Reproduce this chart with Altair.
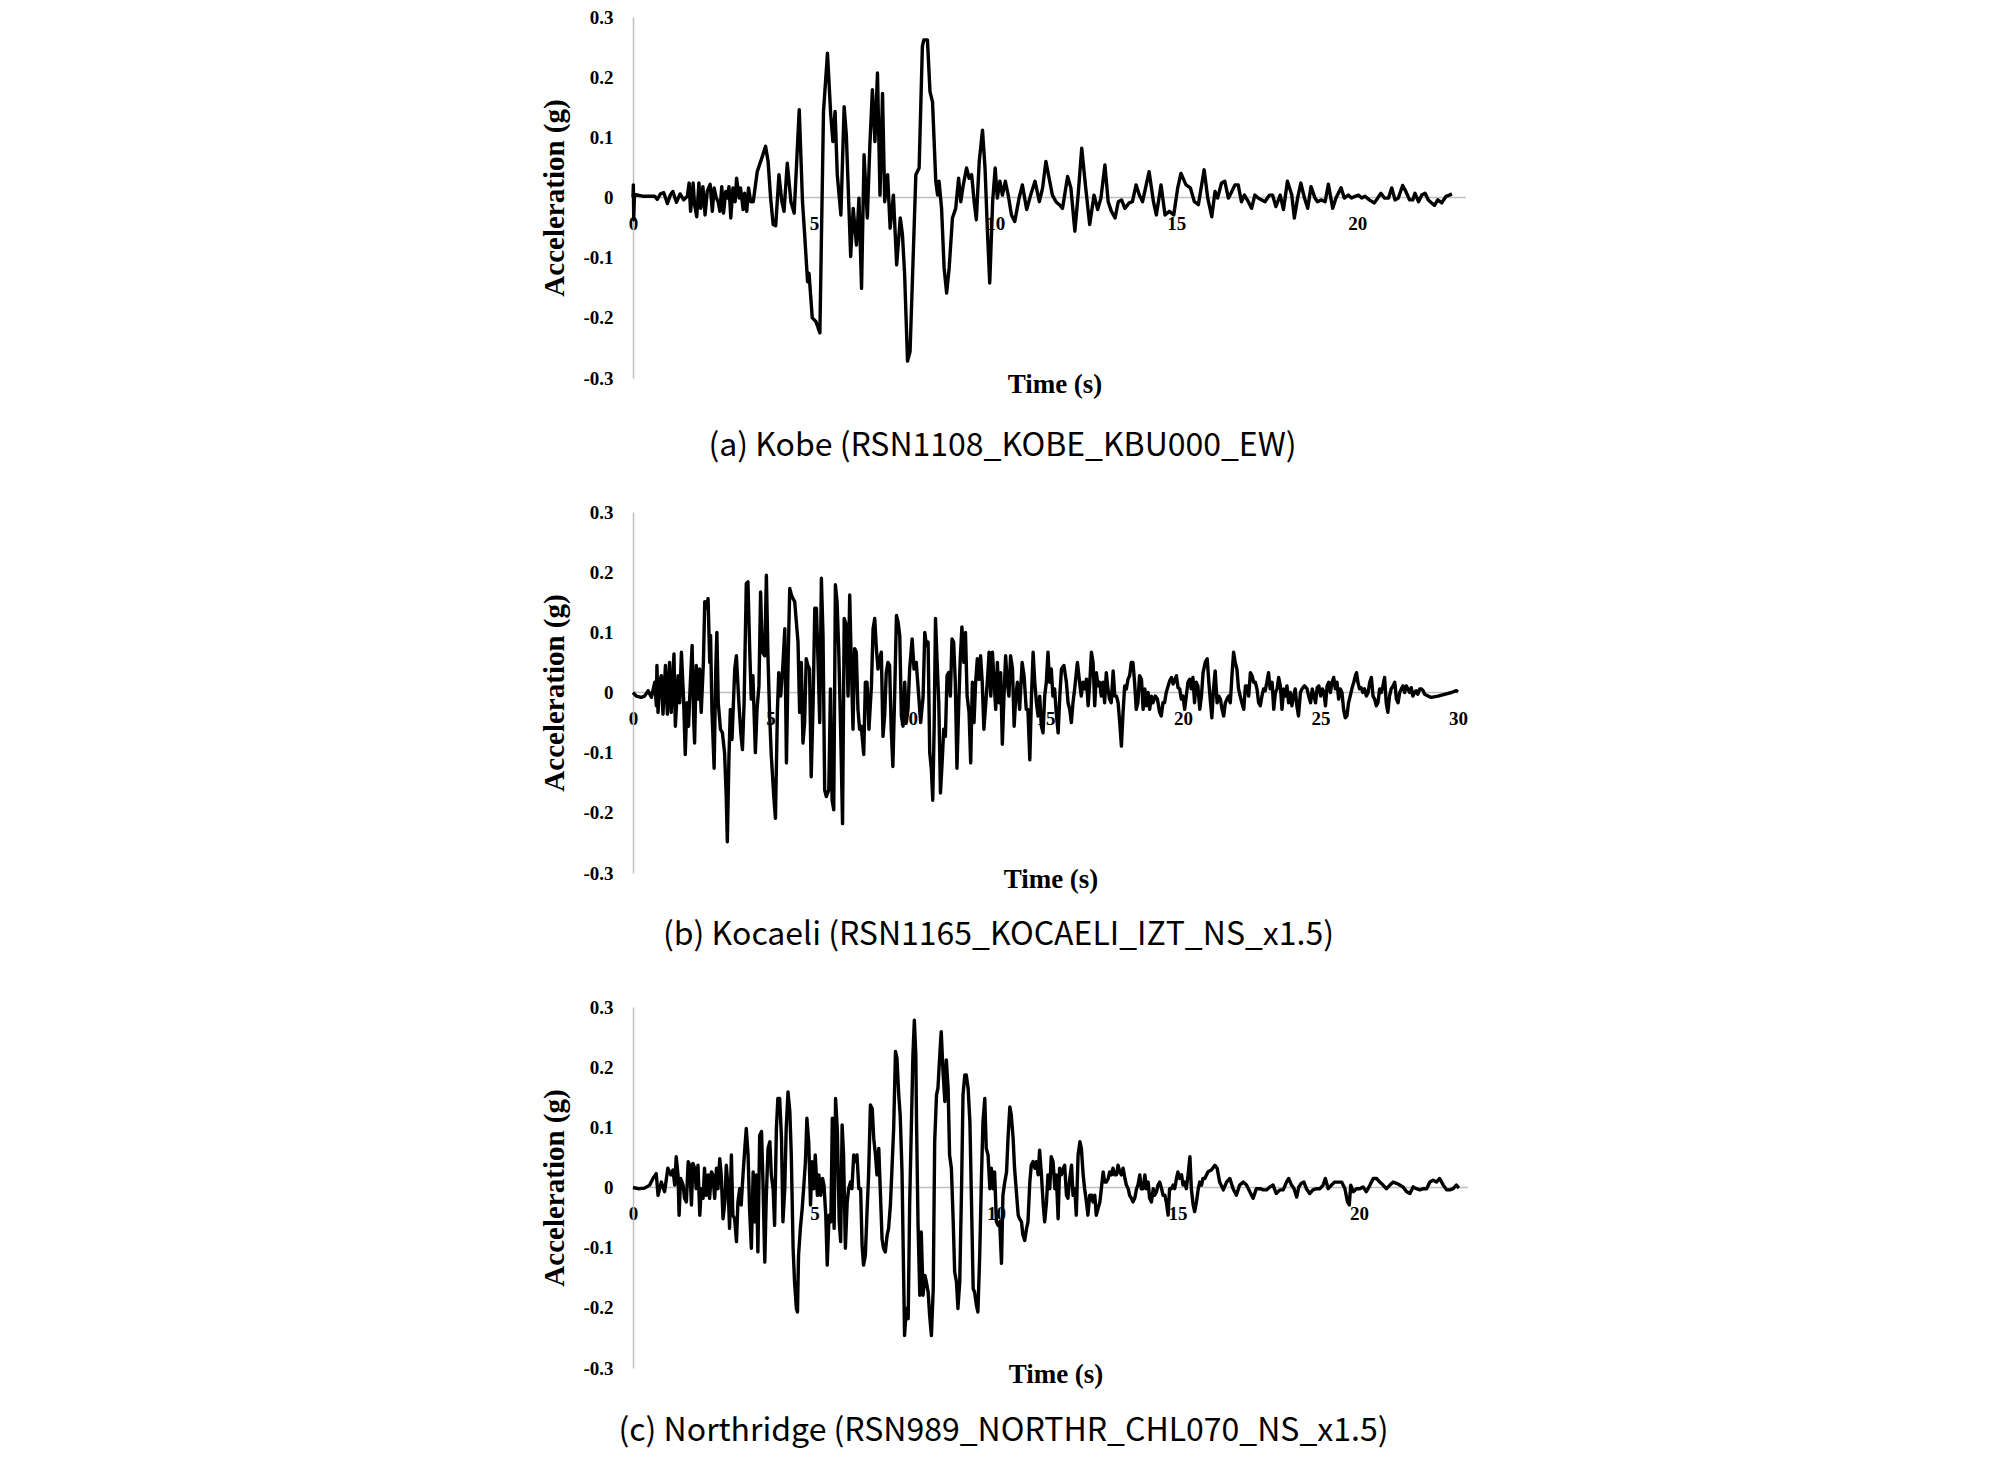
import altair as alt
import pandas as pd

# ---------------- data: (time s, acceleration g) ----------------
KOBE = [
(0.00,0.000),(0.01,0.021),(0.02,-0.037),(0.04,0.005),(0.30,0.002),(0.60,0.002),
(0.67,-0.003),(0.76,0.006),(0.85,0.008),(0.95,-0.010),(1.03,0.004),(1.10,0.010),(1.20,-0.008),(1.30,0.006),(1.40,-0.004),(1.50,0.002),
(1.55,0.024),(1.59,-0.023),(1.66,0.024),(1.70,-0.012),(1.76,-0.032),(1.82,0.024),(1.87,-0.018),(1.93,0.018),(1.99,-0.029),(2.05,0.010),
(2.13,0.022),(2.19,-0.023),(2.24,0.016),(2.30,-0.001),(2.35,-0.007),(2.40,-0.023),(2.45,0.018),(2.50,-0.026),(2.56,0.010),(2.61,-0.001),
(2.65,0.018),(2.70,-0.034),(2.76,0.016),(2.82,-0.007),(2.86,0.032),(2.93,-0.001),(2.97,0.016),(3.04,-0.020),(3.08,0.007),(3.14,-0.023),
(3.19,0.016),(3.25,-0.007),(3.32,-0.007),
(3.43,0.043),(3.57,0.068),(3.66,0.085),(3.73,0.060),(3.80,-0.001),(3.87,-0.045),(3.94,-0.047),(4.03,0.038),(4.11,-0.007),(4.17,-0.023),
(4.26,0.057),(4.36,-0.007),(4.45,-0.026),(4.52,0.060),(4.59,0.146),(4.68,-0.007),(4.74,-0.062),(4.82,-0.140),(4.86,-0.126),(4.95,-0.200),
(5.05,-0.206),(5.16,-0.225),(5.26,0.143),(5.37,0.240),(5.46,0.137),(5.52,0.093),(5.58,0.143),(5.64,0.038),(5.74,-0.029),(5.83,0.151),
(5.89,0.104),(6.01,-0.098),(6.08,-0.018),(6.17,-0.079),(6.24,-0.001),(6.31,-0.151),(6.38,0.071),(6.47,-0.034),(6.54,0.087),(6.61,0.179),
(6.68,0.093),(6.75,0.207),(6.82,0.004),(6.89,0.173),(6.95,-0.007),(7.03,0.038),(7.10,-0.051),(7.19,0.004),(7.28,-0.112),(7.38,-0.034),
(7.44,-0.062),(7.50,-0.128),(7.58,-0.272),(7.65,-0.256),(7.72,-0.128),(7.81,0.038),(7.90,0.049),(7.99,0.251),
(8.03,0.262),(8.13,0.262),(8.20,0.176),(8.27,0.159),(8.36,0.027),(8.41,0.004),(8.45,0.027),(8.52,-0.018),(8.59,-0.117),(8.66,-0.159),
(8.73,-0.117),(8.82,-0.034),(8.91,-0.018),(8.99,0.032),(9.05,-0.007),(9.12,0.021),(9.21,0.049),(9.28,0.032),(9.35,0.038),(9.42,-0.007),
(9.48,-0.037),(9.56,0.060),(9.65,0.112),(9.72,0.049),(9.79,-0.062),(9.85,-0.142),(9.93,-0.007),(10.00,0.049),(10.06,-0.001),(10.13,0.027),
(10.20,0.004),(10.28,0.027),(10.36,0.004),(10.45,-0.029),(10.54,-0.040),(10.66,-0.001),(10.75,0.021),(10.87,-0.020),(10.98,0.004),
(11.10,0.027),(11.22,-0.007),(11.31,0.016),(11.40,0.060),(11.49,0.032),(11.58,0.004),(11.68,-0.007),(11.77,-0.012),(11.86,-0.018),
(12.00,0.035),(12.09,0.016),(12.20,-0.056),(12.29,0.004),(12.39,0.082),(12.50,0.016),(12.61,-0.045),(12.73,0.004),(12.83,-0.020),
(12.92,-0.001),(13.03,0.054),(13.12,-0.007),(13.21,-0.023),(13.31,-0.034),(13.40,-0.007),(13.49,-0.004),(13.58,-0.018),(13.70,-0.009),
(13.79,-0.007),(13.89,0.021),(13.98,0.004),(14.07,-0.007),(14.25,0.043),(14.37,-0.007),(14.45,-0.029),(14.58,0.021),(14.69,-0.029),
(14.81,-0.023),(14.93,-0.029),(15.04,0.016),(15.13,0.040),(15.27,0.021),(15.39,0.016),(15.50,-0.007),(15.61,-0.012),(15.77,0.046),
(15.87,-0.001),(15.98,-0.032),(16.07,0.010),(16.14,-0.001),(16.25,0.024),(16.34,0.027),(16.44,-0.001),(16.51,0.007),(16.62,0.021),
(16.71,0.021),(16.80,-0.007),(16.88,0.004),(16.99,-0.007),(17.08,-0.018),(17.17,0.004),(17.26,-0.001),(17.36,-0.004),(17.45,-0.007),
(17.57,0.004),(17.66,0.004),(17.75,-0.015),(17.87,0.004),(17.96,-0.020),(18.07,0.027),(18.19,0.004),(18.26,-0.034),(18.35,-0.001),
(18.44,0.024),(18.54,-0.001),(18.63,-0.018),(18.72,0.018),(18.83,-0.001),(18.90,-0.007),(19.01,-0.004),(19.11,-0.007),(19.20,0.022),
(19.32,-0.018),(19.41,-0.001),(19.55,0.016),(19.64,-0.001),(19.75,0.004),(19.84,-0.001),(19.94,0.002),(20.03,0.004),(20.12,-0.001),
(20.21,0.002),(20.33,-0.004),(20.47,-0.009),(20.56,-0.001),(20.65,0.007),(20.75,-0.001),(20.86,-0.001),(20.95,0.016),(21.04,-0.004),
(21.13,-0.001),(21.25,0.020),(21.34,0.010),(21.44,-0.004),(21.53,-0.004),(21.59,0.007),(21.69,-0.007),(21.78,0.004),(21.87,0.007),
(21.96,-0.004),(22.05,-0.009),(22.13,-0.013),(22.22,-0.004),(22.33,-0.009),(22.45,0.002),(22.54,0.004),(22.61,0.006),
]

KOCAELI = [
(0.00,0.000),(0.12,-0.006),(0.30,-0.008),(0.42,-0.006),(0.55,0.003),(0.67,-0.008),(0.79,0.017),(0.85,-0.022),(0.87,0.045),(0.91,-0.033),
(0.97,0.017),(1.03,0.028),(1.09,-0.036),(1.18,0.045),(1.25,-0.036),(1.33,0.050),(1.39,-0.033),(1.49,0.064),(1.54,-0.056),(1.64,0.028),
(1.70,-0.017),(1.76,0.067),(1.84,-0.011),(1.90,-0.103),(1.96,-0.017),(2.02,-0.056),(2.08,0.011),(2.15,0.078),(2.21,-0.050),(2.24,-0.084),
(2.30,0.045),(2.36,-0.011),(2.42,0.039),(2.48,-0.033),(2.56,0.050),(2.61,0.151),(2.67,0.140),(2.73,0.156),(2.79,0.050),(2.82,0.095),
(2.87,-0.028),(2.95,-0.126),(3.01,0.039),(3.05,0.100),(3.10,-0.017),(3.18,-0.061),(3.25,-0.067),(3.33,-0.100),(3.39,-0.173),(3.43,-0.248),
(3.49,-0.106),(3.54,-0.028),(3.60,-0.078),(3.70,0.039),(3.76,0.061),(3.85,-0.017),(3.92,-0.067),(3.98,-0.095),(4.04,-0.017),(4.12,0.181),
(4.18,0.184),(4.24,0.078),(4.30,-0.011),(4.36,0.028),(4.45,-0.100),(4.51,-0.028),(4.58,0.011),(4.64,0.167),(4.70,0.067),(4.79,0.061),
(4.85,0.195),(4.91,0.056),(4.97,-0.039),(5.03,-0.106),(5.12,-0.173),(5.18,-0.209),(5.25,-0.033),(5.30,0.033),(5.37,-0.006),(5.45,0.045),
(5.52,0.106),(5.58,-0.117),(5.64,0.050),(5.70,0.173),(5.76,0.162),(5.82,0.156),(5.88,0.151),(5.94,0.117),(6.00,0.084),(6.06,-0.033),
(6.12,0.050),(6.18,-0.084),(6.24,-0.050),(6.30,0.056),(6.36,0.045),(6.42,0.039),(6.48,-0.140),(6.55,-0.017),(6.61,0.140),(6.67,0.140),
(6.73,0.050),(6.79,-0.050),(6.85,0.190),(6.91,0.095),(6.97,-0.162),(7.03,-0.173),(7.12,-0.162),(7.18,0.006),(7.24,-0.179),(7.30,-0.195),
(7.36,0.179),(7.42,0.151),(7.48,0.073),(7.55,-0.061),(7.62,-0.218),(7.68,0.123),(7.76,0.112),(7.82,-0.006),(7.88,0.162),(7.94,0.045),
(8.00,-0.061),(8.06,0.073),(8.12,0.067),(8.18,-0.028),(8.24,-0.061),(8.30,-0.056),(8.39,-0.103),(8.45,0.017),(8.51,0.017),(8.58,-0.061),
(8.67,0.011),(8.73,0.106),(8.79,0.123),(8.85,0.073),(8.91,0.039),(8.97,0.056),(9.03,0.067),(9.09,-0.073),(9.15,-0.039),(9.21,0.033),
(9.27,0.050),(9.33,0.045),(9.39,-0.061),(9.45,-0.123),(9.52,0.006),(9.58,0.128),(9.64,0.117),(9.70,0.095),(9.76,-0.039),(9.82,-0.056),
(9.88,0.017),(9.94,-0.050),
(10.00,-0.028),(10.06,0.039),(10.15,0.089),(10.22,0.039),(10.30,0.050),(10.39,-0.006),(10.46,-0.050),(10.55,-0.006),(10.61,0.100),
(10.67,0.078),(10.73,0.084),(10.79,-0.100),(10.85,-0.128),(10.90,-0.179),(10.95,-0.061),(11.00,0.123),(11.06,0.050),(11.12,-0.017),
(11.18,-0.167),(11.24,-0.117),(11.30,-0.061),(11.36,-0.073),(11.42,0.028),(11.48,0.033),(11.54,-0.006),(11.60,0.089),(11.66,0.084),
(11.72,0.017),(11.78,-0.126),(11.84,-0.028),(11.90,0.056),(11.96,0.109),(12.03,0.050),(12.09,0.100),(12.15,-0.006),(12.22,-0.033),
(12.28,-0.117),(12.34,0.017),(12.40,-0.050),(12.46,0.017),(12.52,0.056),(12.58,0.022),(12.64,0.061),(12.70,0.017),(12.76,-0.061),
(12.83,-0.017),(12.89,0.022),(12.95,0.067),(13.01,-0.006),(13.07,0.067),(13.13,0.017),(13.19,-0.028),(13.25,0.050),(13.31,-0.017),
(13.37,0.033),(13.43,-0.086),(13.49,-0.006),(13.55,0.061),(13.61,0.017),(13.67,-0.006),(13.73,0.061),(13.80,0.039),(13.86,-0.056),
(13.92,-0.006),(13.98,0.017),(14.06,-0.028),(14.15,0.050),(14.22,0.028),(14.30,-0.028),(14.36,-0.028),(14.43,-0.112),(14.49,-0.006),
(14.55,0.067),(14.61,0.017),(14.67,-0.017),(14.73,-0.039),(14.79,-0.006),(14.85,-0.056),(14.91,-0.067),(14.97,-0.006),(15.03,0.017),
(15.09,0.067),(15.15,0.017),(15.21,0.039),(15.27,-0.006),(15.33,0.006),(15.39,-0.033),(15.46,-0.067),(15.52,-0.006),(15.58,0.039),
(15.67,0.045),(15.76,0.017),(15.82,-0.017),(15.88,-0.028),(15.94,-0.050),(16.00,-0.017),(16.06,0.006),(16.16,0.050),(16.24,0.017),
(16.30,-0.006),(16.36,0.017),(16.43,0.006),(16.49,0.022),(16.55,-0.022),(16.61,0.017),(16.67,0.067),(16.73,0.050),(16.79,-0.022),
(16.85,0.033),(16.91,0.011),(16.97,0.017),(17.03,-0.006),(17.09,0.017),(17.15,-0.017),(17.21,0.033),(17.27,0.006),(17.33,-0.011),
(17.39,-0.017),(17.46,0.036),(17.52,-0.006),(17.58,-0.006),(17.64,-0.017),(17.70,-0.050),(17.76,-0.089),(17.82,-0.033),(17.88,0.011),
(17.94,0.006),(18.00,0.022),(18.06,0.028),(18.12,0.050),(18.18,0.050),(18.24,0.017),(18.30,-0.028),(18.36,-0.017),(18.42,0.028),
(18.49,0.022),(18.55,-0.028),(18.61,0.006),(18.67,-0.022),(18.73,0.000),(18.79,-0.028),(18.85,-0.006),(18.91,-0.017),(18.99,-0.006),
(19.07,-0.011),(19.15,-0.033),(19.21,-0.039),(19.27,-0.017),(19.33,-0.017),(19.39,0.000),(19.46,0.011),(19.52,0.020),(19.58,0.025),
(19.64,0.014),(19.70,0.020),(19.76,0.028),(19.82,0.008),(19.88,0.006),(19.94,-0.011),(20.00,-0.006),(20.06,-0.028),(20.12,-0.006),
(20.18,0.017),(20.24,0.022),(20.30,0.006),
(20.36,0.025),(20.42,-0.017),(20.48,0.017),(20.54,0.011),(20.61,-0.028),(20.67,-0.006),(20.73,0.033),(20.81,0.050),(20.88,0.056),
(20.94,0.017),(21.00,-0.017),(21.05,-0.042),(21.11,0.006),(21.17,0.036),(21.24,-0.017),(21.30,-0.006),(21.36,-0.011),(21.42,-0.028),
(21.48,-0.039),(21.54,-0.017),(21.60,-0.011),(21.66,-0.006),(21.72,-0.017),(21.78,0.028),(21.84,0.067),(21.90,0.050),(21.96,0.039),
(22.02,0.006),(22.08,-0.006),(22.14,-0.017),(22.21,-0.028),(22.27,0.011),(22.33,0.011),(22.39,-0.006),(22.45,0.033),(22.51,0.028),
(22.57,0.017),(22.63,0.017),(22.69,0.006),(22.75,-0.017),(22.81,-0.022),(22.87,-0.006),(22.93,0.006),(22.99,0.003),(23.05,0.017),
(23.11,0.033),(23.17,0.006),(23.24,0.017),(23.30,-0.028),(23.36,0.000),(23.42,0.006),(23.48,0.025),(23.54,0.011),(23.60,-0.028),
(23.66,0.006),(23.72,-0.006),(23.78,0.011),(23.84,-0.017),(23.90,0.000),(23.96,-0.022),(24.02,-0.006),(24.08,0.006),(24.14,-0.022),
(24.20,-0.039),(24.27,0.000),(24.33,0.006),(24.42,0.011),(24.51,0.006),(24.57,-0.006),(24.64,-0.017),(24.70,0.006),(24.76,-0.006),
(24.82,-0.017),(24.88,0.008),(24.94,0.011),(25.01,-0.006),(25.07,0.006),(25.13,0.000),(25.18,-0.022),(25.24,0.011),(25.30,0.017),
(25.36,0.000),(25.42,0.017),(25.48,0.025),(25.54,0.006),(25.60,0.017),(25.66,-0.011),(25.72,0.006),(25.78,0.000),(25.84,-0.028),
(25.90,-0.042),(25.96,-0.039),(26.02,-0.017),(26.08,-0.006),(26.14,0.006),(26.21,0.017),(26.27,0.028),(26.31,0.033),(26.36,0.017),
(26.42,0.006),(26.48,0.008),(26.54,0.000),(26.60,0.006),(26.67,-0.006),(26.73,0.000),(26.79,0.017),(26.85,0.025),(26.91,-0.006),
(26.97,-0.011),(27.03,-0.022),(27.09,-0.017),(27.15,0.006),(27.21,0.000),(27.27,0.011),(27.33,0.025),(27.39,-0.017),(27.45,-0.033),
(27.51,-0.006),(27.57,0.006),(27.64,0.011),(27.70,0.017),(27.76,-0.011),(27.82,-0.017),(27.88,0.000),(27.94,0.006),(28.00,0.011),
(28.06,0.000),(28.12,0.011),(28.18,0.006),(28.24,0.000),(28.30,0.008),(28.36,-0.006),(28.42,0.000),(28.48,0.003),(28.54,-0.003),
(28.61,0.006),(28.67,0.006),(28.73,0.003),(28.79,-0.003),(28.91,-0.006),(29.03,-0.008),(29.27,-0.006),(29.51,-0.003),(29.76,0.000),
(29.94,0.003),(30.00,0.001),
]

NORTHRIDGE = [
(0.00,0.000),(0.14,-0.002),(0.32,-0.001),(0.46,0.004),(0.55,0.015),(0.64,0.023),(0.69,-0.013),(0.78,0.009),(0.87,-0.007),(0.96,0.032),
(1.04,0.021),(1.10,0.029),(1.15,0.004),(1.19,0.051),(1.24,0.021),(1.27,-0.046),(1.31,0.015),(1.38,0.004),(1.42,-0.018),(1.47,-0.024),
(1.52,0.043),(1.56,0.037),(1.61,-0.029),(1.65,0.040),(1.70,0.032),(1.74,-0.002),(1.79,0.037),(1.84,-0.046),(1.88,-0.002),(1.93,-0.018),
(1.97,0.032),(2.02,-0.013),(2.07,0.021),(2.11,-0.018),(2.16,0.026),(2.20,0.021),(2.25,-0.018),(2.30,0.032),(2.34,-0.002),(2.39,0.048),
(2.43,0.021),(2.48,-0.052),(2.53,-0.024),(2.57,0.037),(2.62,-0.002),(2.66,-0.068),(2.71,0.054),(2.75,-0.046),(2.80,-0.052),(2.85,-0.090),
(2.89,-0.024),(2.94,-0.002),(2.98,-0.029),(3.03,0.021),(3.08,0.065),(3.12,0.098),(3.17,0.054),(3.21,-0.035),(3.26,-0.101),(3.31,0.026),
(3.35,-0.057),(3.40,0.021),(3.44,-0.107),(3.49,0.087),(3.54,0.093),(3.58,0.009),(3.63,-0.124),(3.67,-0.018),(3.72,0.065),(3.77,0.076),
(3.81,0.021),(3.86,-0.002),(3.90,-0.063),(3.95,0.098),(3.99,0.148),(4.04,0.148),(4.09,0.082),(4.13,-0.057),(4.18,-0.002),(4.22,0.098),
(4.27,0.159),(4.32,0.126),(4.36,0.054),(4.41,-0.101),(4.45,-0.157),(4.50,-0.201),(4.53,-0.207),(4.56,-0.113),(4.61,-0.068),(4.66,-0.035),
(4.70,-0.002),(4.75,0.043),(4.79,0.115),(4.84,0.076),(4.89,-0.029),(4.93,0.043),(4.98,-0.002),(5.02,0.054),(5.08,-0.013),(5.12,0.021),
(5.17,-0.013),(5.22,0.015),(5.26,0.004),(5.31,-0.046),(5.35,-0.129),(5.40,-0.046),(5.45,-0.057),(5.49,0.115),(5.54,-0.068),(5.58,0.148),
(5.63,0.093),(5.68,-0.057),(5.72,-0.090),(5.76,0.104),(5.80,0.054),(5.85,-0.101),(5.90,-0.024),(5.94,-0.002),(5.99,0.009),(6.03,-0.002),
(6.08,0.054),(6.12,0.043),(6.17,0.054),(6.22,-0.002),(6.27,-0.002),(6.31,-0.096),(6.35,-0.129),(6.40,-0.113),(6.45,-0.035),(6.49,0.021),
(6.54,0.137),(6.59,0.131),(6.63,0.082),(6.68,0.054),(6.72,0.021),(6.77,0.065),(6.81,-0.002),(6.86,-0.085),(6.90,-0.101),(6.95,-0.107),
(7.00,-0.079),(7.04,-0.068),(7.09,-0.029),(7.13,0.026),(7.18,0.098),(7.23,0.226),(7.27,0.215),(7.32,0.154),(7.36,0.120),(7.41,0.026),
(7.46,-0.168),(7.48,-0.246),(7.53,-0.201),(7.58,-0.218),(7.62,-0.029),(7.67,0.109),(7.71,0.220),(7.75,0.278),(7.79,0.220),
(7.81,0.109),(7.85,-0.057),(7.90,-0.179),(7.94,-0.074),(7.99,-0.179),(8.04,-0.146),(8.08,-0.157),(8.13,-0.174),(8.17,-0.212),(8.22,-0.246),
(8.27,-0.168),(8.31,0.076),(8.36,0.154),(8.40,0.165),(8.45,0.220),(8.49,0.259),(8.54,0.192),(8.59,0.143),(8.63,0.212),(8.68,0.165),
(8.72,0.054),(8.77,0.032),(8.82,-0.057),(8.86,-0.140),(8.91,-0.157),(8.95,-0.201),(9.00,-0.157),(9.05,-0.002),(9.09,0.154),(9.14,0.187),
(9.18,0.187),(9.23,0.165),(9.28,0.109),(9.32,-0.013),(9.37,-0.168),(9.41,-0.174),(9.46,-0.196),(9.50,-0.207),(9.55,-0.113),(9.60,0.021),
(9.64,0.109),(9.69,0.148),(9.73,0.065),(9.78,0.054),(9.83,-0.002),(9.87,0.032),(9.92,-0.002),(9.96,0.026),(10.01,-0.057),(10.06,-0.063),
(10.10,-0.057),(10.15,-0.126),(10.19,-0.013),(10.24,0.009),(10.29,0.026),(10.33,0.082),(10.38,0.134),(10.42,0.120),(10.47,0.082),
(10.51,0.032),(10.56,-0.007),(10.61,-0.046),(10.65,-0.052),(10.70,-0.057),(10.74,-0.079),(10.79,-0.088),(10.84,-0.068),(10.88,-0.057),
(10.93,0.009),(10.97,0.037),(11.02,0.043),(11.07,0.032),(11.11,0.043),(11.16,0.021),(11.20,0.062),(11.25,0.021),(11.30,-0.029),
(11.34,-0.057),(11.39,-0.024),(11.43,0.021),(11.48,-0.002),(11.52,0.051),(11.57,0.043),(11.62,-0.002),(11.66,0.021),(11.71,-0.052),
(11.75,0.032),(11.80,0.021),(11.85,0.032),(11.89,0.037),(11.94,-0.013),(11.98,-0.018),(12.03,0.015),(12.08,0.037),(12.12,-0.013),
(12.17,-0.002),(12.21,-0.046),(12.26,0.054),(12.31,0.076),(12.35,0.065),(12.40,0.021),(12.44,-0.002),(12.49,-0.024),(12.53,-0.046),
(12.58,-0.013),(12.63,-0.013),(12.67,-0.024),(12.72,-0.013),(12.76,-0.046),(12.81,-0.035),(12.86,-0.024),(12.90,-0.002),(12.95,0.026),
(12.99,0.009),(13.04,0.009),(13.09,0.015),(13.13,0.026),(13.18,0.021),(13.22,0.032),(13.27,0.021),(13.32,0.021),(13.36,0.037),
(13.41,0.026),(13.45,0.021),(13.50,0.032),(13.55,0.015),(13.59,0.004),(13.64,-0.002),(13.68,-0.013),(13.73,-0.018),(13.77,-0.024),
(13.82,-0.018),(13.87,-0.002),(13.91,0.004),(13.96,0.021),(14.00,-0.002),(14.05,-0.002),(14.10,0.021),(14.14,-0.002),(14.19,0.009),
(14.23,-0.018),(14.28,-0.024),(14.33,-0.002),(14.37,-0.013),(14.42,-0.007),(14.46,0.004),(14.51,0.009),(14.56,-0.002),(14.60,-0.013),
(14.65,-0.013),(14.69,-0.024),(14.74,-0.046),(14.78,-0.002),(14.83,-0.002),(14.88,0.004),(14.92,-0.002),(14.97,0.015),(15.01,0.026),
(15.06,0.015),(15.11,0.021),(15.15,0.004),(15.20,0.009),(15.24,-0.002),(15.29,0.021),(15.34,0.051),(15.38,-0.002),(15.43,-0.029),
(15.47,-0.040),(15.52,-0.024),(15.57,-0.002),(15.61,0.009),(15.66,0.004),(15.70,0.015),(15.75,0.015),
(15.84,0.026),(15.93,0.029),(16.03,0.037),(16.09,0.032),(16.16,0.009),(16.26,-0.004),(16.35,0.009),(16.44,0.015),(16.53,-0.002),
(16.62,-0.013),(16.71,0.004),(16.81,0.009),(16.90,0.004),(16.99,-0.007),(17.08,-0.018),(17.17,-0.002),(17.27,-0.002),(17.36,-0.004),
(17.45,-0.004),(17.54,0.001),(17.63,0.004),(17.72,-0.010),(17.82,-0.004),(17.91,-0.004),(18.00,0.009),(18.06,0.015),(18.14,0.004),
(18.21,-0.002),(18.28,-0.016),(18.34,0.001),(18.41,0.007),(18.48,0.009),(18.55,-0.002),(18.64,-0.010),(18.73,-0.004),(18.83,-0.002),
(18.92,-0.002),(19.01,0.004),(19.07,0.015),(19.15,-0.002),(19.24,0.004),(19.33,0.009),(19.42,0.009),(19.52,0.009),(19.61,-0.002),
(19.68,-0.024),(19.73,-0.029),(19.77,0.004),(19.84,-0.007),(19.93,-0.002),(20.02,-0.002),(20.11,0.001),(20.20,-0.007),(20.30,0.004),
(20.39,0.015),(20.48,0.015),(20.57,0.009),(20.66,0.004),(20.75,-0.002),(20.85,0.004),(20.94,0.009),(21.03,0.007),(21.12,0.004),
(21.21,0.001),(21.31,-0.007),(21.40,-0.010),(21.49,0.001),(21.58,-0.002),(21.67,-0.004),(21.77,-0.002),(21.86,-0.002),(21.95,0.009),
(22.04,0.012),(22.13,0.009),(22.22,0.015),(22.32,0.004),(22.41,-0.004),(22.50,-0.004),(22.59,-0.002),(22.68,0.004),(22.75,-0.001),
]

CAPTIONS = [
    "(a) Kobe (RSN1108_KOBE_KBU000_EW)",
    "(b) Kocaeli (RSN1165_KOCAELI_IZT_NS_x1.5)",
    "(c) Northridge (RSN989_NORTHR_CHL070_NS_x1.5)",
]
X_MAX = [23, 30, 23]
X_TICKS = [[0, 5, 10, 15, 20], [0, 5, 10, 15, 20, 25, 30], [0, 5, 10, 15, 20]]
Y_TICKS = [0.3, 0.2, 0.1, 0, -0.1, -0.2, -0.3]
WIDTHS = [833, 825, 835]
CAPTION_OFFSETS = [33, 27, 28]
HEIGHT = 361

SERIF = "Liberation Serif"
CAPFONT = "Noto Sans CJK KR"
GRAY = "#bfbfbf"


def panel(series, caption, xmax, xticks, width, cap_offset):
    df = pd.DataFrame(series, columns=["t", "a"])
    zero = pd.DataFrame({"a": [0.0]})
    x_enc = alt.X(
        "t:Q",
        scale=alt.Scale(domain=[0, xmax], nice=False, zero=False),
        axis=alt.Axis(
            values=xticks, offset=-HEIGHT / 2, domain=False, ticks=False, tickSize=0, grid=False,
            labelFont=SERIF, labelFontWeight="bold", labelFontSize=19, labelColor="black",
            labelPadding=17, labelFlush=False, labelOverlap=False,
            title="Time (s)", titleFont=SERIF, titleFontWeight="bold", titleFontSize=27,
            titleColor="black", titleX=width / 2 + 5, titleY=187, titleBaseline="middle", titleAlign="center",
        ),
    )
    y_enc = alt.Y(
        "a:Q",
        scale=alt.Scale(domain=[-0.3, 0.3], nice=False),
        axis=alt.Axis(
            values=Y_TICKS, grid=False, ticks=False, tickSize=0,
            domain=True, domainColor=GRAY, domainWidth=1.5,
            labelExpr="datum.value == 0 ? '0' : replace(format(datum.value, '.1f'), '\u2212', '-')",
            labelFont=SERIF, labelFontWeight="bold", labelFontSize=19, labelColor="black",
            labelPadding=20,
            title="Acceleration (g)", titleFont=SERIF, titleFontWeight="bold", titleFontSize=29,
            titleColor="black", titleX=-79, titleY=HEIGHT / 2, titleBaseline="middle", titleAlign="center",
        ),
    )
    rule = alt.Chart(zero).mark_rule(color=GRAY, strokeWidth=1.5).encode(y="a:Q")
    line = alt.Chart(df).mark_line(color="black", strokeWidth=3.4, strokeJoin="round").encode(x=x_enc, y=y_enc)
    return alt.layer(rule, line).properties(
        width=width,
        height=HEIGHT,
        title=alt.TitleParams(
            text=caption, orient="bottom", anchor="middle", frame="group", dx=-47, offset=cap_offset,
            font=CAPFONT, fontSize=32, fontWeight="normal", color="black",
        ),
    )


panels = [
    panel(s, c, m, t, w, o)
    for s, c, m, t, w, o in zip([KOBE, KOCAELI, NORTHRIDGE], CAPTIONS, X_MAX, X_TICKS, WIDTHS, CAPTION_OFFSETS)
]

chart = (
    alt.vconcat(*panels, spacing=134, bounds="flush")
    .properties(padding={"left": 532, "top": 0, "right": 10, "bottom": 5}, background="white")
    .configure_view(stroke=None)
)

chart.save("out.html", embed_options={"renderer": "svg", "actions": False})
